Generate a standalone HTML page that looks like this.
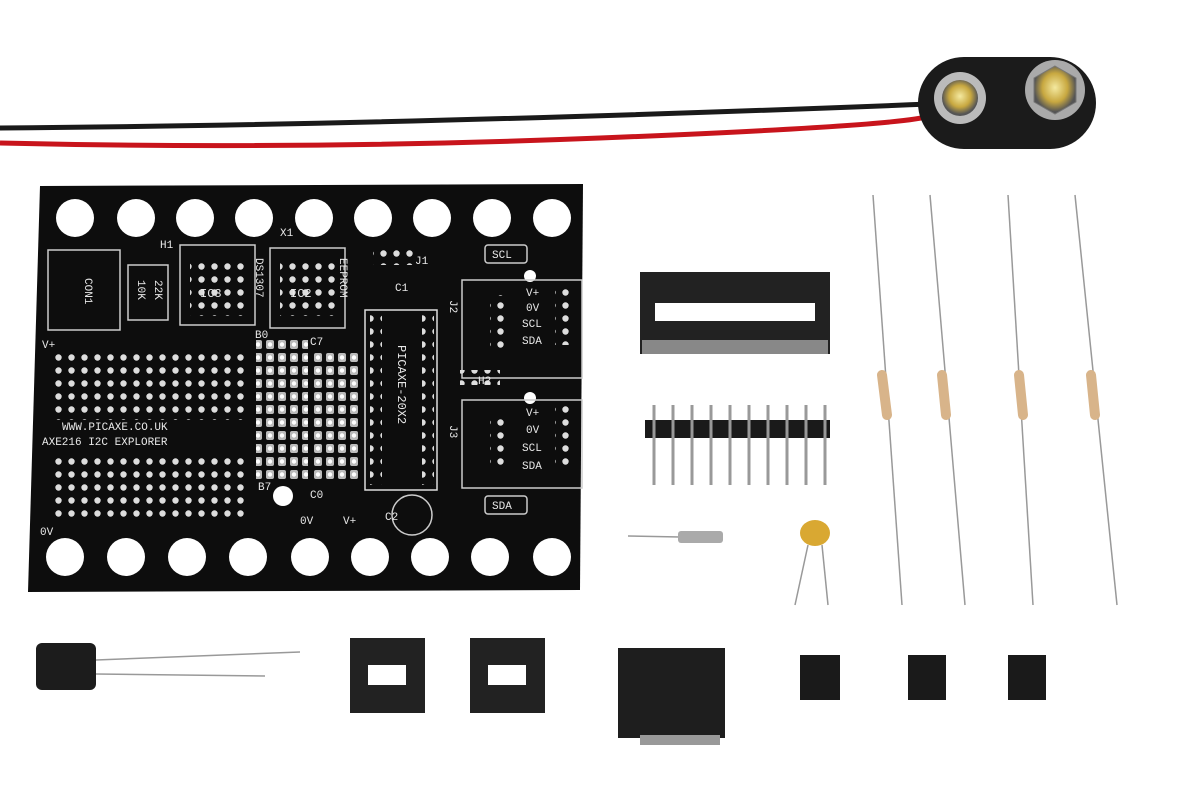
<!DOCTYPE html>
<html><head><meta charset="utf-8"><style>
html,body{margin:0;padding:0;background:#fff;width:1200px;height:800px;overflow:hidden}
svg text{font-family:"Liberation Mono",monospace;fill:#e8e8e8}
</style></head><body>
<svg width="1200" height="800" viewBox="0 0 1200 800" xmlns="http://www.w3.org/2000/svg">
<defs>
<pattern id="dots" x="0" y="0" width="13" height="13" patternUnits="userSpaceOnUse">
<circle cx="6.5" cy="6.5" r="3.2" fill="#ddd"/></pattern>
<pattern id="dots2" x="0" y="0" width="12" height="13" patternUnits="userSpaceOnUse">
<rect x="2" y="2" width="8" height="9" rx="2" fill="#bbb"/><circle cx="6" cy="6.5" r="2.2" fill="#fff"/></pattern>
<radialGradient id="gold" cx="50%" cy="45%" r="50%"><stop offset="0" stop-color="#f4e9a0"/><stop offset=".6" stop-color="#c8a840"/><stop offset="1" stop-color="#555"/></radialGradient>
</defs>
<rect width="1200" height="800" fill="#fff"/>
<!-- wires -->
<path d="M0 128 Q400 125 930 104" stroke="#1a1a1a" stroke-width="5" fill="none"/>
<path d="M0 143 Q300 150 600 138 T930 116" stroke="#c8141c" stroke-width="5" fill="none"/>
<!-- battery clip -->
<rect x="918" y="57" width="178" height="92" rx="46" fill="#1b1b1b"/>
<circle cx="960" cy="98" r="26" fill="#bbb"/><circle cx="960" cy="98" r="18" fill="url(#gold)"/>
<circle cx="1055" cy="90" r="30" fill="#aaa"/><polygon points="1055,66 1076,78 1076,102 1055,114 1034,102 1034,78" fill="url(#gold)" stroke="#777"/>
<!-- PCB -->
<polygon points="40,186 583,184 580,590 28,592" fill="#0d0d0d"/>
<g fill="#fff">
<circle cx="75" cy="218" r="19"/><circle cx="136" cy="218" r="19"/><circle cx="195" cy="218" r="19"/><circle cx="254" cy="218" r="19"/><circle cx="314" cy="218" r="19"/><circle cx="373" cy="218" r="19"/><circle cx="432" cy="218" r="19"/><circle cx="492" cy="218" r="19"/><circle cx="552" cy="218" r="19"/>
<circle cx="65" cy="557" r="19"/><circle cx="126" cy="557" r="19"/><circle cx="187" cy="557" r="19"/><circle cx="248" cy="557" r="19"/><circle cx="310" cy="557" r="19"/><circle cx="370" cy="557" r="19"/><circle cx="430" cy="557" r="19"/><circle cx="490" cy="557" r="19"/><circle cx="552" cy="557" r="19"/>
<circle cx="283" cy="496" r="10"/><circle cx="530" cy="276" r="6"/><circle cx="530" cy="398" r="6"/>
</g>
<rect x="50" y="350" width="200" height="70" fill="url(#dots)"/>
<rect x="50" y="455" width="200" height="68" fill="url(#dots)"/>
<rect x="256" y="340" width="52" height="140" fill="url(#dots2)"/>
<rect x="310" y="350" width="50" height="130" fill="url(#dots2)"/>
<rect x="365" y="310" width="72" height="180" fill="none" stroke="#ddd" stroke-width="1.5"/>
<rect x="370" y="315" width="12" height="170" fill="url(#dots)"/>
<rect x="422" y="315" width="12" height="170" fill="url(#dots)"/>
<g fill="none" stroke="#ccc" stroke-width="1.5">
<rect x="180" y="245" width="75" height="80"/><rect x="270" y="248" width="75" height="80"/>
<rect x="48" y="250" width="72" height="80"/><rect x="128" y="265" width="40" height="55"/>
<rect x="462" y="280" width="120" height="98"/><rect x="462" y="400" width="120" height="88"/>
<circle cx="412" cy="515" r="20"/><rect x="485" y="245" width="42" height="18" rx="3"/><rect x="485" y="496" width="42" height="18" rx="3"/>
</g>
<rect x="190" y="258" width="55" height="58" fill="url(#dots)"/>
<rect x="280" y="258" width="55" height="58" fill="url(#dots)"/>
<rect x="490" y="295" width="15" height="55" fill="url(#dots)"/>
<rect x="490" y="415" width="15" height="55" fill="url(#dots)"/>
<rect x="555" y="285" width="15" height="60" fill="url(#dots)"/>
<rect x="555" y="405" width="15" height="60" fill="url(#dots)"/>
<rect x="373" y="250" width="40" height="15" fill="url(#dots)"/>
<rect x="460" y="370" width="40" height="15" fill="url(#dots)"/>
<g font-size="11">
<text x="160" y="248">H1</text><text x="280" y="236">X1</text><text x="415" y="264">J1</text>
<text x="492" y="258">SCL</text><text x="492" y="509">SDA</text><text x="395" y="291">C1</text>
<text x="200" y="297" font-size="12">IC3</text><text x="290" y="297" font-size="12">IC2</text>
<text x="255" y="338">B0</text><text x="310" y="345">C7</text><text x="258" y="490">B7</text>
<text x="310" y="498">C0</text><text x="300" y="524">0V</text><text x="343" y="524">V+</text>
<text x="385" y="520">C2</text><text x="478" y="384">H2</text><text x="40" y="535">0V</text><text x="42" y="348">V+</text>
<text x="526" y="296">V+</text><text x="526" y="311">0V</text><text x="522" y="327">SCL</text><text x="522" y="344">SDA</text>
<text x="526" y="416">V+</text><text x="526" y="433">0V</text><text x="522" y="451">SCL</text><text x="522" y="469">SDA</text>
<text x="62" y="430">WWW.PICAXE.CO.UK</text><text x="42" y="445">AXE216 I2C EXPLORER</text>
<text transform="translate(398,345) rotate(90)" font-size="12">PICAXE-20X2</text>
<text transform="translate(85,278) rotate(90)">CON1</text>
<text transform="translate(138,280) rotate(90)">10K</text><text transform="translate(155,280) rotate(90)">22K</text>
<text transform="translate(256,258) rotate(90)">DS1307</text><text transform="translate(340,258) rotate(90)">EEPROM</text>
<text transform="translate(450,300) rotate(90)">J2</text><text transform="translate(450,425) rotate(90)">J3</text>
</g>
<!-- 20 pin socket -->
<rect x="640" y="272" width="190" height="82" fill="#222"/>
<rect x="655" y="303" width="160" height="18" fill="#fff"/>
<rect x="642" y="340" width="186" height="14" fill="#888"/>
<!-- header -->
<rect x="645" y="420" width="185" height="18" fill="#1a1a1a"/>
<g stroke="#999" stroke-width="3">
<line x1="654" y1="405" x2="654" y2="485"/><line x1="673" y1="405" x2="673" y2="485"/><line x1="692" y1="405" x2="692" y2="485"/><line x1="711" y1="405" x2="711" y2="485"/><line x1="730" y1="405" x2="730" y2="485"/><line x1="749" y1="405" x2="749" y2="485"/><line x1="768" y1="405" x2="768" y2="485"/><line x1="787" y1="405" x2="787" y2="485"/><line x1="806" y1="405" x2="806" y2="485"/><line x1="825" y1="405" x2="825" y2="485"/>
</g>
<!-- resistors -->
<g stroke="#999" stroke-width="1.5">
<line x1="873" y1="195" x2="902" y2="605"/><line x1="930" y1="195" x2="965" y2="605"/>
<line x1="1008" y1="195" x2="1033" y2="605"/><line x1="1075" y1="195" x2="1117" y2="605"/>
</g>
<g stroke="#d8b48a" stroke-width="10" stroke-linecap="round">
<line x1="882" y1="375" x2="887" y2="415"/><line x1="942" y1="375" x2="946" y2="415"/>
<line x1="1019" y1="375" x2="1023" y2="415"/><line x1="1091" y1="375" x2="1095" y2="415"/>
</g>
<!-- crystal -->
<line x1="628" y1="536" x2="680" y2="537" stroke="#999" stroke-width="1.5"/>
<rect x="678" y="531" width="45" height="12" rx="3" fill="#aaa"/>
<!-- ceramic cap -->
<ellipse cx="815" cy="533" rx="15" ry="13" fill="#d9a832"/>
<path d="M808 545 L795 605 M822 545 L828 605" stroke="#999" stroke-width="1.5" fill="none"/>
<!-- electrolytic -->
<rect x="36" y="643" width="60" height="47" rx="6" fill="#1c1c1c"/>
<line x1="96" y1="660" x2="300" y2="652" stroke="#999" stroke-width="1.5"/>
<line x1="96" y1="674" x2="265" y2="676" stroke="#999" stroke-width="1.5"/>
<!-- 8 pin sockets -->
<rect x="350" y="638" width="75" height="75" fill="#222"/><rect x="368" y="665" width="38" height="20" fill="#fff"/>
<rect x="470" y="638" width="75" height="75" fill="#222"/><rect x="488" y="665" width="38" height="20" fill="#fff"/>
<!-- audio jack -->
<rect x="618" y="648" width="107" height="90" fill="#1e1e1e"/><rect x="640" y="735" width="80" height="10" fill="#999"/>
<!-- jumpers -->
<rect x="800" y="655" width="40" height="45" fill="#1a1a1a"/>
<rect x="908" y="655" width="38" height="45" fill="#1a1a1a"/>
<rect x="1008" y="655" width="38" height="45" fill="#1a1a1a"/>
</svg>
</body></html>
